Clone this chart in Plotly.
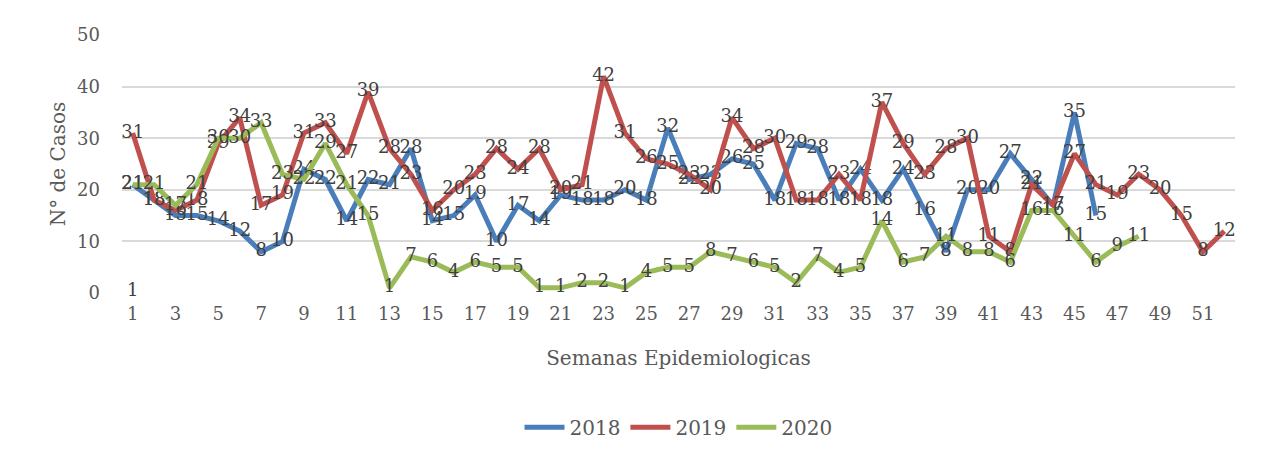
import plotly.graph_objects as go

weeks = list(range(1, 53))
tick_weeks = list(range(1, 52, 2))

cases_2018 = [21, 18, 15, 15, 14, 12, 8, 10, 24, 22,
              14, 22, 21, 28, 14, 15, 19, 10, 17, 14,
              19, 18, 18, 20, 18, 32, 22, 23, 26, 25,
              18, 29, 28, 18, 24, 18, 24, 16, 8, 20,
              20, 27, 22, 17, 35, 15]
cases_2019 = [31, 18, 16, 18, 29, 34, 17, 19, 31, 33,
              27, 39, 28, 23, 16, 20, 23, 28, 24, 28,
              20, 21, 42, 31, 26, 25, 23, 20, 34, 28,
              30, 18, 18, 23, 18, 37, 29, 23, 28, 30,
              11, 8, 21, 17, 27, 21, 19, 23, 20, 15,
              8, 12]
cases_2020 = [21, 21, 17, 21, 30, 30, 33, 23, 22, 29,
              21, 15, 1, 7, 6, 4, 6, 5, 5, 1,
              1, 2, 2, 1, 4, 5, 5, 8, 7, 6,
              5, 2, 7, 4, 5, 14, 6, 7, 11, 8,
              8, 6, 16, 16, 11, 6, 9, 11]

series_names = ["2018", "2019", "2020"]
series_values = [cases_2018, cases_2019, cases_2020]
series_colors = ["#4A7EBB", "#C0504D", "#9BBB59"]

stray_label_week = 1
stray_label_value = 0.6
stray_label_text = "1"

FONT = "DejaVu Serif"
LABEL_COLOR = "#404040"
AXIS_COLOR = "#595959"

fig = go.Figure()
for name, vals, col in zip(series_names, series_values, series_colors):
    fig.add_trace(go.Scatter(
        x=weeks[:len(vals)], y=vals, name=name,
        mode="lines+text",
        text=[str(v) for v in vals],
        textposition="middle center",
        textfont=dict(family=FONT, size=18, color=LABEL_COLOR),
        line=dict(color=col, width=5, shape="linear"),
        cliponaxis=False,
    ))

fig.add_annotation(x=stray_label_week, y=stray_label_value, text=stray_label_text,
                   showarrow=False, xref="x", yref="y",
                   font=dict(family=FONT, size=18, color=LABEL_COLOR))

# page body adds an 8px offset; compensate in size and margins
W, H = 1261, 454
L, R, T, B = 114, 34, 27, 169

fig.update_layout(
    width=W, height=H,
    margin=dict(l=L, r=R, t=T, b=B, autoexpand=False),
    paper_bgcolor="white", plot_bgcolor="white",
    font=dict(family=FONT, color=AXIS_COLOR),
    showlegend=True,
    legend=dict(orientation="h", x=0.5, xanchor="center", y=-0.52, yanchor="middle",
                font=dict(family=FONT, size=20, color=AXIS_COLOR),
                itemwidth=40, tracegroupgap=0),
    xaxis=dict(range=[0.5, 52.5], tickmode="array", tickvals=tick_weeks,
               ticktext=[str(t) for t in tick_weeks],
               showgrid=False, zeroline=False, showline=False,
               tickfont=dict(family=FONT, size=18, color=AXIS_COLOR),
               ticks="", ticklabelstandoff=8,
               title=dict(text="Semanas Epidemiologicas", standoff=27,
                          font=dict(family=FONT, size=20, color=AXIS_COLOR))),
    yaxis=dict(range=[0, 50], tickvals=[0, 10, 20, 30, 40, 50],
               showgrid=True, gridcolor="#D9D9D9", gridwidth=1.5,
               zeroline=False, showline=False, ticks="",
               tickfont=dict(family=FONT, size=18, color=AXIS_COLOR),
               ticklabelstandoff=21,
               title=dict(text="N° de Casos", standoff=6,
                          font=dict(family=FONT, size=20, color=AXIS_COLOR))),
)

fig.write_html("out.html")
